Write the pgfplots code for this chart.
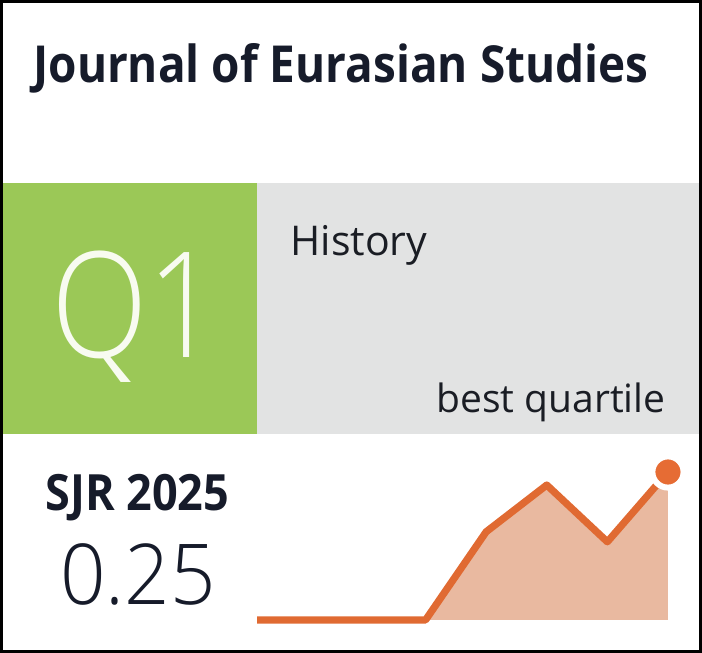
\documentclass[border=0pt]{standalone}
\usepackage{pgfplots}
\pgfplotsset{compat=1.18}
\usepackage{fontspec}
\setmainfont{Open Sans}
\newfontfamily\boldf[FakeStretch=0.9]{Open Sans}
\IfFontExistsTF{Open Sans Light}{%
  \newfontfamily\lightq[FakeStretch=0.86]{Open Sans Light}%
  \newfontfamily\lightn[FakeStretch=0.95]{Open Sans Light}%
}{%
  \newfontfamily\lightq[FakeStretch=0.86]{Open Sans}%
  \newfontfamily\lightn[FakeStretch=0.95]{Open Sans}%
}
\definecolor{sjrgreen}{RGB}{155,200,87}
\definecolor{sjrgray}{RGB}{226,227,227}
\definecolor{titlecol}{RGB}{22,27,42}
\definecolor{textcol}{RGB}{26,29,36}
\definecolor{qwhite}{RGB}{248,251,240}
\definecolor{lineor}{RGB}{224,106,50}
\definecolor{fillor}{RGB}{233,185,160}
\definecolor{dotor}{RGB}{230,108,52}

\pgfplotstableread{
year sjr
2018 0
2019 0
2020 0
2021 0
2022 0.149
2023 0.228
2024 0.132
2025 0.25
}\sjrdata

\begin{document}
\begin{tikzpicture}
\begin{axis}[
  width=351pt, height=326.5pt, scale only axis, hide axis,
  xmin=0, xmax=702, ymin=0, ymax=653, y dir=reverse, clip=false]
  % panels
  \fill[sjrgreen] (axis cs:3,183) rectangle (axis cs:257,434);
  \fill[sjrgray] (axis cs:257,183) rectangle (axis cs:699,434);
  % texts
  \node[anchor=base west, inner sep=0, text=titlecol, font=\boldf\bfseries\fontsize{25.5pt}{30pt}\selectfont]
    at (axis cs:33,82) {Journal of Eurasian Studies};
  \node[anchor=base west, inner sep=0, text=qwhite, font=\lightq\fontsize{73.5pt}{80pt}\selectfont]
    at (axis cs:51,357) {Q1};
  \node[anchor=base west, inner sep=0, text=textcol, font=\fontsize{20.5pt}{24pt}\selectfont]
    at (axis cs:290,255) {History};
  \node[anchor=base east, inner sep=0, text=textcol, font=\fontsize{19.5pt}{24pt}\selectfont]
    at (axis cs:666,412) {best quartile};
  \node[anchor=base west, inner sep=0, text=titlecol, font=\boldf\bfseries\fontsize{25pt}{30pt}\selectfont]
    at (axis cs:45,510) {SJR 2025};
  \node[anchor=base west, inner sep=0, text=titlecol, font=\lightn\fontsize{42pt}{48pt}\selectfont]
    at (axis cs:60,604) {0.25};
  % border
  \draw[black, line width=1.5pt] (axis cs:1.5,1.5) rectangle (axis cs:700.5,651.5);
  \coordinate (sparkorigin) at (axis cs:243.75,620);
  \coordinate (c1) at (axis cs:257,440);
  \coordinate (c2) at (axis cs:699,649);
\end{axis}
\begin{scope}
\clip (c1) rectangle (c2);
\begin{axis}[
  at={(sparkorigin)}, anchor=south west,
  width=212.125pt, height=74pt, scale only axis, hide axis,
  xmin=2018, xmax=2025, ymin=0, ymax=0.25, clip=false]
  \addplot[fill=fillor, draw=none] table[x=year, y=sjr] {\sjrdata} \closedcycle;
  \addplot[lineor, line width=3.6pt, line join=round, line cap=round] table[x=year, y=sjr] {\sjrdata};
  \addplot[only marks, mark=*, mark size=7.8pt,
    mark options={fill=dotor, draw=white, line width=3pt}]
    coordinates {(2025,0.25)};
\end{axis}
\end{scope}
\end{tikzpicture}
\end{document}
